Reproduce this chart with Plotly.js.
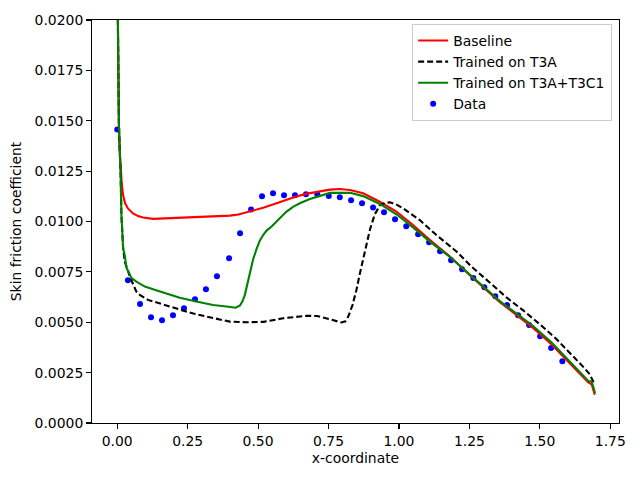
<!DOCTYPE html>
<html>
<head>
<meta charset="utf-8">
<script src="https://cdn.plot.ly/plotly-3.0.1.min.js"></script>
<style>html,body{margin:0;padding:0;background:#fff;}#chart{width:640px;height:480px;}</style>
</head>
<body>
<div id="chart"></div>
<script>
// Baseline (red)
const baseX = [0.002,0.004,0.006,0.009,0.012,0.016,0.021,0.028,0.038,0.056,0.074,0.092,0.127,0.169,0.222,0.28,0.34,0.40,0.43,0.459,0.49,0.518,0.55,0.589,0.63,0.67,0.707,0.755,0.79,0.826,0.873,0.932,0.991,1.05,1.11,1.181,1.24,1.30,1.358,1.42,1.477,1.54,1.595,1.64,1.672,1.684,1.695];
const baseY = [0.0205,0.017,0.0148,0.0135,0.0126,0.0119,0.0113,0.0109,0.01065,0.0104,0.01027,0.0102,0.01013,0.01016,0.0102,0.01023,0.01025,0.01029,0.01035,0.01045,0.01056,0.01068,0.01083,0.01103,0.01122,0.01137,0.01147,0.01158,0.01161,0.01156,0.0114,0.01098,0.01049,0.00983,0.00908,0.00826,0.00748,0.00672,0.006,0.00533,0.0047,0.00392,0.00312,0.0025,0.00202,0.00192,0.0014];

// Trained on T3A (black dashed)
const t3aX = [0.002,0.004,0.006,0.009,0.012,0.015,0.021,0.027,0.036,0.044,0.056,0.068,0.08,0.109,0.135,0.169,0.222,0.27,0.317,0.36,0.4,0.459,0.52,0.589,0.63,0.672,0.71,0.743,0.775,0.796,0.81,0.82,0.835,0.849,0.861,0.873,0.885,0.897,0.914,0.932,0.95,0.968,0.99,1.015,1.074,1.133,1.205,1.26,1.32,1.38,1.44,1.50,1.56,1.62,1.66,1.678,1.687,1.693];
const t3aY = [0.0205,0.017,0.0148,0.0135,0.0124,0.0103,0.00867,0.0080,0.0076,0.0073,0.0069,0.00652,0.00636,0.00611,0.006,0.00586,0.00561,0.00543,0.00528,0.00515,0.00503,0.005,0.00502,0.0052,0.00526,0.00532,0.00531,0.0052,0.00508,0.00499,0.00505,0.00528,0.00585,0.0066,0.0074,0.00818,0.00892,0.0096,0.01035,0.0108,0.01092,0.01095,0.01085,0.01065,0.01007,0.00933,0.0085,0.00773,0.007,0.00625,0.0056,0.0049,0.00415,0.0033,0.0027,0.0024,0.00215,0.00195];

// Trained on T3A+T3C1 (green)
const t3cX = [0.002,0.004,0.006,0.009,0.012,0.015,0.021,0.027,0.033,0.044,0.05,0.068,0.098,0.13,0.169,0.222,0.281,0.34,0.388,0.42,0.435,0.445,0.453,0.462,0.47,0.482,0.494,0.506,0.518,0.53,0.548,0.577,0.60,0.624,0.65,0.684,0.72,0.755,0.826,0.873,0.932,0.991,1.05,1.11,1.181,1.24,1.30,1.358,1.42,1.477,1.54,1.595,1.64,1.672,1.684,1.696];
const t3cY = [0.0205,0.017,0.0148,0.0135,0.0124,0.0103,0.00867,0.0083,0.0077,0.0074,0.0072,0.00702,0.00677,0.00662,0.00646,0.00622,0.00603,0.00586,0.00578,0.00572,0.00582,0.00605,0.00636,0.0069,0.0074,0.0081,0.00862,0.00905,0.00933,0.00955,0.00975,0.01016,0.01048,0.01073,0.01092,0.01112,0.01128,0.01142,0.01143,0.01126,0.01087,0.01036,0.00971,0.009,0.00824,0.00752,0.00678,0.00605,0.0054,0.0048,0.00402,0.00322,0.00258,0.00208,0.00206,0.00149];

// Data (blue dots)
const dataX = [0,0.038,0.081,0.120,0.159,0.198,0.237,0.276,0.315,0.354,0.397,0.436,0.475,0.514,0.553,0.592,0.631,0.670,0.710,0.751,0.790,0.830,0.869,0.908,0.947,0.986,1.026,1.068,1.107,1.146,1.185,1.224,1.264,1.303,1.342,1.384,1.423,1.462,1.501,1.540,1.580];
const dataY = [0.01457,0.00709,0.0059,0.00525,0.0051,0.00535,0.0057,0.00614,0.00664,0.00728,0.00818,0.00942,0.01059,0.01125,0.0114,0.0113,0.0113,0.01135,0.01135,0.01126,0.0112,0.01105,0.0109,0.0107,0.01046,0.01011,0.00976,0.00937,0.00897,0.00852,0.00808,0.00763,0.00719,0.00674,0.00629,0.00585,0.00535,0.00486,0.00431,0.00372,0.00307];

const xTickVals = [0, 0.25, 0.5, 0.75, 1.0, 1.25, 1.5, 1.75];
const yTickVals = [0, 0.0025, 0.005, 0.0075, 0.01, 0.0125, 0.015, 0.0175, 0.02];

const FONT = 'DejaVu Sans, sans-serif';
const traces = [
  {x: dataX, y: dataY, type: 'scatter', mode: 'markers', name: 'Data',
   marker: {color: '#0000ff', size: 6}, legendrank: 4},
  {x: baseX, y: baseY, type: 'scatter', mode: 'lines', name: 'Baseline',
   line: {color: '#ff0000', width: 2.1}, legendrank: 1},
  {x: t3aX, y: t3aY, type: 'scatter', mode: 'lines', name: 'Trained on T3A',
   line: {color: '#000000', width: 2.1, dash: '6px,3px'}, legendrank: 2},
  {x: t3cX, y: t3cY, type: 'scatter', mode: 'lines', name: 'Trained on T3A+T3C1',
   line: {color: '#008000', width: 2.1}, legendrank: 3}
];

const axisCommon = {
  showgrid: false, zeroline: false, showline: true, mirror: true,
  linecolor: '#000', linewidth: 1.1, ticks: 'outside', ticklen: 4.9,
  tickwidth: 1.1, tickcolor: '#000',
  tickfont: {family: FONT, size: 13.9, color: '#000'}
};

const layout = {
  width: 640, height: 480,
  margin: {l: 92, r: 21, t: 20, b: 57},
  paper_bgcolor: '#fff', plot_bgcolor: '#fff',
  font: {family: FONT, size: 13.9, color: '#000'},
  showlegend: true,
  legend: {x: 0.987, y: 0.99, xanchor: 'right', yanchor: 'top', itemwidth: 30,
    bgcolor: 'rgba(255,255,255,0.8)', bordercolor: '#cccccc', borderwidth: 1,
    font: {family: FONT, size: 13.9, color: '#000'}, tracegroupgap: 0},
  xaxis: Object.assign({}, axisCommon, {
    range: [-0.0895, 1.781], tickvals: xTickVals, tickformat: '.2f',
    title: {text: 'x-coordinate', font: {family: FONT, size: 13.9, color: '#000'}, standoff: 5}
  }),
  yaxis: Object.assign({}, axisCommon, {
    range: [0, 0.02], tickvals: yTickVals, tickformat: '.4f',
    title: {text: 'Skin friction coefficient', font: {family: FONT, size: 13.9, color: '#000'}, standoff: 9}
  })
};

Plotly.newPlot('chart', traces, layout, {displayModeBar: false, staticPlot: true});
</script>
</body>
</html>
